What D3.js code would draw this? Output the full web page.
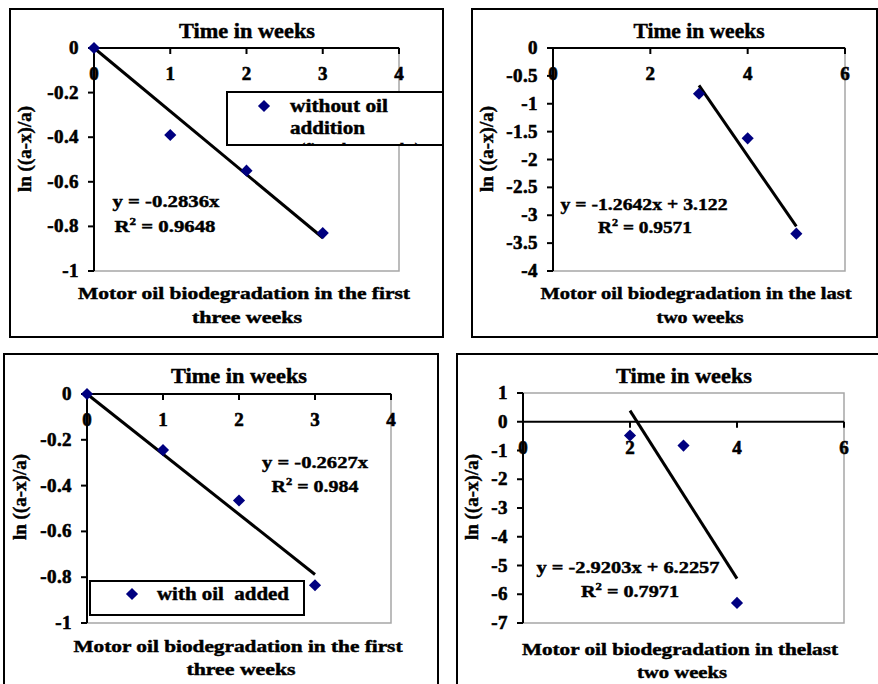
<!DOCTYPE html>
<html>
<head>
<meta charset="utf-8">
<script src="https://cdn.jsdelivr.net/npm/d3@7"></script>
<style>
  body { margin: 0; background: #fff; }
  svg text { font-family: "Liberation Serif", "Times New Roman", serif; font-weight: bold; fill: #000;
             stroke: #000; stroke-width: 0.45px; white-space: pre; }
  svg text.tick { stroke-width: 0.6px; }
</style>
</head>
<body>
<svg id="chart" width="878" height="684"></svg>
<script>
// data
const weeksFirstA  = [0, 1, 2, 3];
const lnWithoutOil = [0, -0.39, -0.55, -0.83];
const weeksLastA   = [3, 4, 5];
const lnWithoutLast = [-0.82, -1.62, -3.33];
const weeksFirstB  = [0, 1, 2, 3];
const lnWithOil    = [0, -0.245, -0.465, -0.835];
const weeksLastB   = [2, 3, 4];
const lnWithLast   = [-0.48, -0.83, -6.3];

// trend lines: [slope, intercept]
const trendFirstA = [-0.2836, 0];
const trendLastA  = [-1.2642, 3.122];
const trendFirstB = [-0.2627, 0];
const trendLastB  = [-2.9203, 6.2257];

// ticks
const xTicksFirst = [0, 1, 2, 3, 4];
const xTicksLast  = [0, 2, 4, 6];
const yTicksFirst = [0, -0.2, -0.4, -0.6, -0.8, -1];
const yTicksLastA = [0, -0.5, -1, -1.5, -2, -2.5, -3, -3.5, -4];
const yTicksLastB = [1, 0, -1, -2, -3, -4, -5, -6, -7];

const svg = d3.select('#chart');
const navy = '#000080';

const txt = (g, x, y, s, o = {}) => {
  const t = g.append('text').attr('x', x).attr('y', y).text(s)
    .attr('font-size', o.size || 17)
    .attr('text-anchor', o.anchor || 'middle');
  if (o.width) t.attr('textLength', o.width).attr('lengthAdjust', 'spacingAndGlyphs');
  if (o.ls) t.attr('letter-spacing', o.ls);
  return t;
};

const panel = (p) => {
  const g = svg.append('g');
  g.append('rect').attr('x', p.frame[0]).attr('y', p.frame[1])
    .attr('width', p.frame[2] - p.frame[0]).attr('height', p.frame[3] - p.frame[1])
    .attr('fill', '#fff').attr('stroke', '#000').attr('stroke-width', 2);

  const [l, t, r, b] = p.plot;
  const x = d3.scaleLinear().domain(p.xDomain).range([l, r]);
  const y = d3.scaleLinear().domain(p.yDomain).range([b, t]);

  g.append('rect').attr('x', l).attr('y', t).attr('width', r - l).attr('height', b - t)
    .attr('fill', 'none').attr('stroke', '#a6a6a6').attr('stroke-width', 1.5);

  // y axis
  g.append('line').attr('x1', l).attr('x2', l).attr('y1', t).attr('y2', b)
    .attr('stroke', '#000').attr('stroke-width', 2);
  p.yTicks.forEach(v => {
    g.append('line').attr('x1', l - 6).attr('x2', l).attr('y1', y(v)).attr('y2', y(v))
      .attr('stroke', '#000').attr('stroke-width', 2);
    txt(g, l - 15, y(v) + 6, String(+v.toFixed(1)), { anchor: 'end', size: 19, ls: 0.4 })
      .attr('class', 'tick');
  });

  // x axis along y = 0
  const y0 = y(0);
  g.append('line').attr('x1', l).attr('x2', r).attr('y1', y0).attr('y2', y0)
    .attr('stroke', '#000').attr('stroke-width', 2);
  p.xTicks.forEach(v => {
    g.append('line').attr('x1', x(v)).attr('x2', x(v)).attr('y1', y0).attr('y2', y0 + 6)
      .attr('stroke', '#000').attr('stroke-width', 2);
    txt(g, x(v), y0 + 32, String(v), { size: 19 }).attr('class', 'tick');
  });

  // trend line
  const [m, c] = p.trend;
  const xs = d3.extent(p.xs);
  g.append('line').attr('x1', x(xs[0])).attr('y1', y(m * xs[0] + c))
    .attr('x2', x(xs[1])).attr('y2', y(m * xs[1] + c))
    .attr('stroke', '#000').attr('stroke-width', 3);

  // points
  g.selectAll('path.pt').data(p.xs.map((v, i) => [v, p.ys[i]])).enter()
    .append('path').attr('class', 'pt')
    .attr('d', d3.symbol(d3.symbolDiamond2, 60)())
    .attr('transform', d => `translate(${x(d[0])},${y(d[1])}) scale(1.25)`)
    .attr('fill', navy);

  // titles
  txt(g, p.title[0], p.title[1], 'Time in weeks', { size: 21, width: p.title[2] });
  txt(g, 0, 0, 'ln ((a-x)/a)', { size: 18, width: 86 })
    .attr('transform', `translate(${p.ylab[0] + 6},${p.ylab[1]}) rotate(-90)`);
  p.xlab.forEach(d => txt(g, d[1], d[2], d[0], { size: 17, width: d[3] }));

  // equation
  p.eq.forEach(d => {
    const e = txt(g, d[1], d[2], '', { size: 17.5, width: d[3] });
    if (d[0].includes('^2')) {
      const parts = d[0].split('^2');
      e.append('tspan').text(parts[0]);
      e.append('tspan').attr('dy', -7).attr('font-size', 11).text('2');
      e.append('tspan').attr('dy', 7).text(parts[1]);
    } else e.text(d[0]);
  });

  // legend
  if (p.legend) {
    const lg = p.legend;
    const clip = 'clip' + p.id;
    g.append('clipPath').attr('id', clip).append('rect')
      .attr('x', lg.box[0]).attr('y', lg.box[1])
      .attr('width', lg.box[2] - lg.box[0]).attr('height', lg.box[3] - lg.box[1]);
    g.append('rect').attr('x', lg.box[0]).attr('y', lg.box[1])
      .attr('width', lg.box[2] - lg.box[0]).attr('height', lg.box[3] - lg.box[1])
      .attr('fill', '#fff').attr('stroke', '#000').attr('stroke-width', 2);
    g.append('path').attr('d', d3.symbol(d3.symbolDiamond2, 60)())
      .attr('transform', `translate(${lg.marker[0]},${lg.marker[1]}) scale(1.25)`)
      .attr('fill', navy);
    const lt = g.append('g').attr('clip-path', `url(#${clip})`);
    lg.lines.forEach(d => txt(lt, d[1], d[2], d[0], { size: 18, anchor: 'start', width: d[3] }));
  }
};

panel({
  id: 1, frame: [10, 9, 443, 337], plot: [94, 48, 399, 271],
  xDomain: [0, 4], yDomain: [-1, 0], xTicks: xTicksFirst, yTicks: yTicksFirst,
  xs: weeksFirstA, ys: lnWithoutOil, trend: trendFirstA,
  title: [247, 38, 136], ylab: [25, 149],
  xlab: [['Motor oil biodegradation in the first', 244, 299, 332], ['three weeks', 247, 323, 110]],
  eq: [['y = -0.2836x', 166, 207, 107], ['R^2 = 0.9648', 165, 232, 101]],
  legend: { box: [227, 92, 443, 145], marker: [264, 106],
    lines: [['without oil', 290, 112, 98], ['addition', 290, 134, 75], ['(first three weeks)', 300, 156, 120]] }
});

panel({
  id: 2, frame: [472, 9, 877, 337], plot: [553, 48, 845, 271],
  xDomain: [0, 6], yDomain: [-4, 0], xTicks: xTicksLast, yTicks: yTicksLastA,
  xs: weeksLastA, ys: lnWithoutLast, trend: trendLastA,
  title: [699, 38, 131], ylab: [487, 149],
  xlab: [['Motor oil biodegradation in the last', 696, 299, 311], ['two weeks', 700, 323, 87]],
  eq: [['y = -1.2642x + 3.122', 644, 210, 167], ['R^2 = 0.9571', 645, 233, 94]]
});

panel({
  id: 3, frame: [4, 354, 438, 692], plot: [87, 394, 391, 623],
  xDomain: [0, 4], yDomain: [-1, 0], xTicks: xTicksFirst, yTicks: yTicksFirst,
  xs: weeksFirstB, ys: lnWithOil, trend: trendFirstB,
  title: [239, 383, 136], ylab: [20, 497],
  xlab: [['Motor oil biodegradation in the first', 238, 652, 329], ['three weeks', 241, 675, 109]],
  eq: [['y = -0.2627x', 315, 468, 106], ['R^2 = 0.984', 315, 492, 87]],
  legend: { box: [90, 581, 304, 615], marker: [132, 594],
    lines: [['with oil  added', 157, 600, 132]] }
});

panel({
  id: 4, frame: [457, 354, 882, 692], plot: [523, 393, 844, 623],
  xDomain: [0, 6], yDomain: [-7, 1], xTicks: xTicksLast, yTicks: yTicksLastB,
  xs: weeksLastB, ys: lnWithLast, trend: trendLastB,
  title: [684, 383, 136], ylab: [472, 497],
  xlab: [['Motor oil biodegradation in thelast', 680, 655, 316], ['two weeks', 682, 678, 90]],
  eq: [['y = -2.9203x + 6.2257', 628, 573, 183], ['R^2 = 0.7971', 630, 597, 98]]
});
</script>
</body>
</html>
